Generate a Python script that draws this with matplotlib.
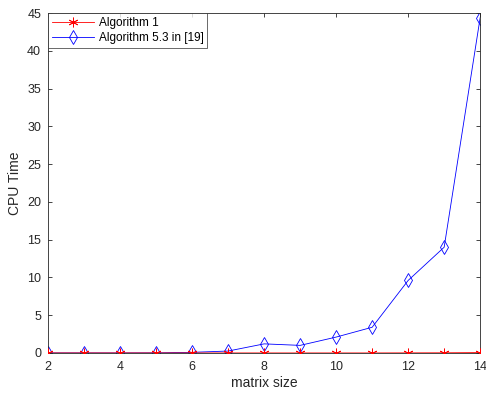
import matplotlib
matplotlib.use("Agg")
import matplotlib.pyplot as plt

plt.rcParams['font.family'] = ['Liberation Sans', 'DejaVu Sans']

matrix_size = [2, 3, 4, 5, 6, 7, 8, 9, 10, 11, 12, 13, 14]
alg1 = [0.0, 0.0, 0.0, 0.0, 0.0, 0.0, 0.0, 0.0, 0.0, 0.0, 0.01, 0.02, 0.05]
alg53 = [0.0, 0.0, 0.0, 0.01, 0.08, 0.25, 1.2, 1.0, 2.1, 3.4, 9.6, 14.0, 44.4]

fig = plt.figure(figsize=(4.86, 3.97), dpi=100)
ax = fig.add_axes([0.099, 0.111, 0.889, 0.856])

ax.plot(matrix_size, alg1, color='#ff0000', marker=(6, 2, 0), markersize=7,
        markeredgewidth=0.6, linewidth=0.6, label='Algorithm 1', zorder=3)
ax.plot(matrix_size, alg53, color='#0000ff', marker='d', markersize=7,
        markerfacecolor='none', markeredgewidth=0.6, linewidth=0.6,
        label='Algorithm 5.3 in [19]', zorder=2)

ax.set_xlim(2, 14)
ax.set_ylim(0, 45)
ax.set_xticks([2, 4, 6, 8, 10, 12, 14])
ax.set_yticks([0, 5, 10, 15, 20, 25, 30, 35, 40, 45])
ax.tick_params(direction='in', length=3, width=0.6, labelsize=9,
               colors='#262626', top=True, right=True, labeltop=False, labelright=False)
ax.tick_params(axis='x', pad=6)
ax.tick_params(axis='y', pad=5)
for s in ax.spines.values():
    s.set_color('#262626')
    s.set_linewidth(0.6)
ax.set_xlabel('matrix size', fontsize=10, color='#262626', labelpad=2)
ax.set_ylabel('CPU Time', fontsize=10, color='#262626', labelpad=4)

leg = ax.legend(loc='upper left', fontsize=8.5, frameon=True, fancybox=False,
                borderaxespad=0.0, handlelength=3.6, borderpad=0.3,
                labelspacing=0.3, handletextpad=0.4)
leg.get_frame().set_edgecolor('#262626')
leg.get_frame().set_linewidth(0.6)

fig.savefig('out.png', dpi=100)
